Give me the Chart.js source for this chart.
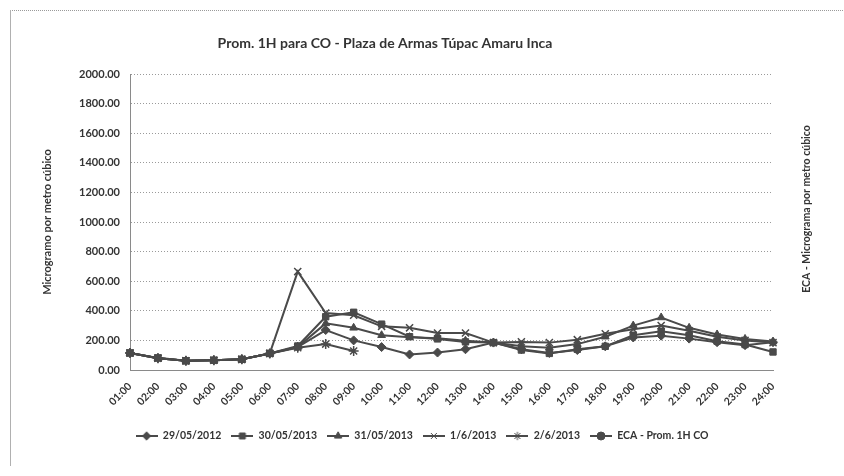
<!DOCTYPE html>
<html><head><meta charset="utf-8">
<script src="https://cdn.jsdelivr.net/npm/chart.js@4/dist/chart.umd.min.js"></script>
<style>html,body{margin:0;padding:0;background:#fff}#wrap{width:844px;height:476px;position:relative}</style>
</head><body><div id="wrap"><canvas id="c" width="844" height="476"></canvas></div>
<script>
const chartTitle = 'Prom. 1H para CO - Plaza de Armas Túpac Amaru Inca';
const leftAxisTitle = 'Microgramo por metro cúbico';
const rightAxisTitle = 'ECA - Micrograma por metro cúbico';
const hours = ['01:00','02:00','03:00','04:00','05:00','06:00','07:00','08:00','09:00','10:00','11:00','12:00','13:00','14:00','15:00','16:00','17:00','18:00','19:00','20:00','21:00','22:00','23:00','24:00'];
const seriesNames = ['29/05/2012','30/05/2013','31/05/2013','1/6/2013','2/6/2013','ECA - Prom. 1H CO'];
const s29_05_2012 = [115,80,62,66,72,112,155,270,200,155,105,118,140,185,140,115,135,160,220,232,212,188,168,188];
const s30_05_2013 = [115,82,62,66,72,112,162,360,390,310,225,210,190,185,135,112,140,160,235,262,235,195,172,122];
const s31_05_2013 = [115,80,62,66,72,112,155,315,285,235,222,215,198,185,160,150,175,225,300,355,285,240,210,192];
const s1_6_2013 = [115,80,62,66,72,112,665,385,370,295,285,250,250,185,190,185,205,245,275,300,265,225,200,185];
const s2_6_2013 = [115,80,62,66,72,112,150,175,128,null,null,null,null,null,null,null,null,null,null,null,null,null,null,null];
const ecaProm1H = [null,null,null,null,null,null,null,null,null,null,null,null,null,null,null,null,null,null,null,null,null,null,null,null];
const yTicks = {min:0, max:2000, step:200};

const FONT = 'Lato, "Open Sans", sans-serif';
const INK = '#4a4a4a';
const styles = ['rectRot','rect','triangle','crossRot','star','circle'];
const radii = [4.5,4.5,4.5,5,5,4];
const allData = [s29_05_2012,s30_05_2013,s31_05_2013,s1_6_2013,s2_6_2013,ecaProm1H];

function icon(style, r){
  const cv = document.createElement('canvas');
  cv.width = 22; cv.height = 12;
  const c = cv.getContext('2d');
  c.strokeStyle = INK; c.fillStyle = INK; c.lineWidth = 2;
  c.beginPath(); c.moveTo(0,6); c.lineTo(22,6); c.stroke();
  c.lineWidth = 1;
  if (Chart.helpers && Chart.helpers.drawPoint) {
    Chart.helpers.drawPoint(c, {pointStyle: style, radius: Math.min(r,4.2), rotation: 0, borderWidth: 1.2}, 11, 6);
  }
  return cv;
}

const datasets = allData.map((d,i)=>({
  label: seriesNames[i],
  data: d,
  yAxisID: i===5 ? 'y2' : 'y',
  borderColor: INK,
  backgroundColor: INK,
  borderWidth: 2,
  pointStyle: styles[i],
  pointRadius: radii[i],
  pointBorderWidth: (i===3||i===4) ? 1.5 : 1,
  pointBorderColor: INK,
  pointBackgroundColor: INK,
  spanGaps: false,
  tension: 0
}));

const deco = {
  id: 'deco',
  beforeDraw(chart){
    const ctx = chart.ctx;
    ctx.save();
    ctx.strokeStyle = '#9a9a9a'; ctx.lineWidth = 1;
    ctx.setLineDash([1,1]);
    ctx.beginPath(); ctx.moveTo(10,10.5); ctx.lineTo(844,10.5); ctx.stroke();
    ctx.setLineDash([]);
    ctx.strokeStyle = '#b0b0b0';
    ctx.beginPath(); ctx.moveTo(10.5,10); ctx.lineTo(10.5,466); ctx.stroke();
    ctx.restore();
  },
  afterDraw(chart){
    const ctx = chart.ctx;
    ctx.save();
    ctx.fillStyle = '#333';
    ctx.font = 'bold 14px ' + FONT;
    ctx.textAlign = 'center'; ctx.textBaseline = 'middle';
    ctx.fillText(chartTitle, 385, 43);
    ctx.translate(807, 209);
    ctx.rotate(-Math.PI/2);
    ctx.font = 'bold 10.5px ' + FONT;
    ctx.fillText(rightAxisTitle, 0, 0);
    ctx.restore();
  }
};

new Chart(document.getElementById('c'), {
  type: 'line',
  data: { labels: hours, datasets },
  plugins: [deco],
  options: {
    responsive: false,
    animation: false,
    layout: { padding: { top: 74, left: 0, right: 0, bottom: 24.75 } },
    plugins: {
      title: { display: false },
      tooltip: { enabled: false },
      legend: {
        position: 'bottom',
        labels: {
          font: { family: FONT, size: 10.5, weight: 'bold' },
          color: '#333',
          usePointStyle: true,
          pointStyleWidth: 22,
          padding: 10,
          generateLabels(chart){
            return chart.data.datasets.map((ds,i)=>({
              text: ds.label,
              pointStyle: icon(styles[i], radii[i]),
              fillStyle: INK, strokeStyle: INK, lineWidth: 0,
              fontColor: '#333',
              hidden: false, datasetIndex: i
            }));
          }
        }
      }
    },
    scales: {
      x: {
        grid: { display: false },
        border: { display: true, color: '#8a8a8a', width: 1 },
        ticks: { autoSkip: false, minRotation: 45, maxRotation: 45, padding: 2,
          font: { family: FONT, size: 10.5, weight: 'bold' }, color: '#333' },
        afterFit(s){ s.height = 50.75; }
      },
      y: {
        position: 'left',
        min: yTicks.min, max: yTicks.max,
        grid: { color: '#9a9a9a', lineWidth: 1, drawTicks: false },
        border: { display: true, color: '#8a8a8a', width: 1, dash: [1,2] },
        ticks: { stepSize: yTicks.step, padding: 10, callback: v => Number(v).toFixed(2),
          font: { family: FONT, size: 11, weight: 'bold' }, color: '#333' },
        title: { display: true, text: leftAxisTitle, padding: { top: 41, bottom: 0 },
          font: { family: FONT, size: 11, weight: 'bold' }, color: '#333' },
        afterFit(s){ s.width = 130; }
      },
      y2: {
        position: 'right',
        min: yTicks.min, max: yTicks.max,
        grid: { display: false },
        border: { display: false },
        ticks: { display: false },
        afterFit(s){ s.width = 71; }
      }
    }
  }
});
</script>
</body></html>
